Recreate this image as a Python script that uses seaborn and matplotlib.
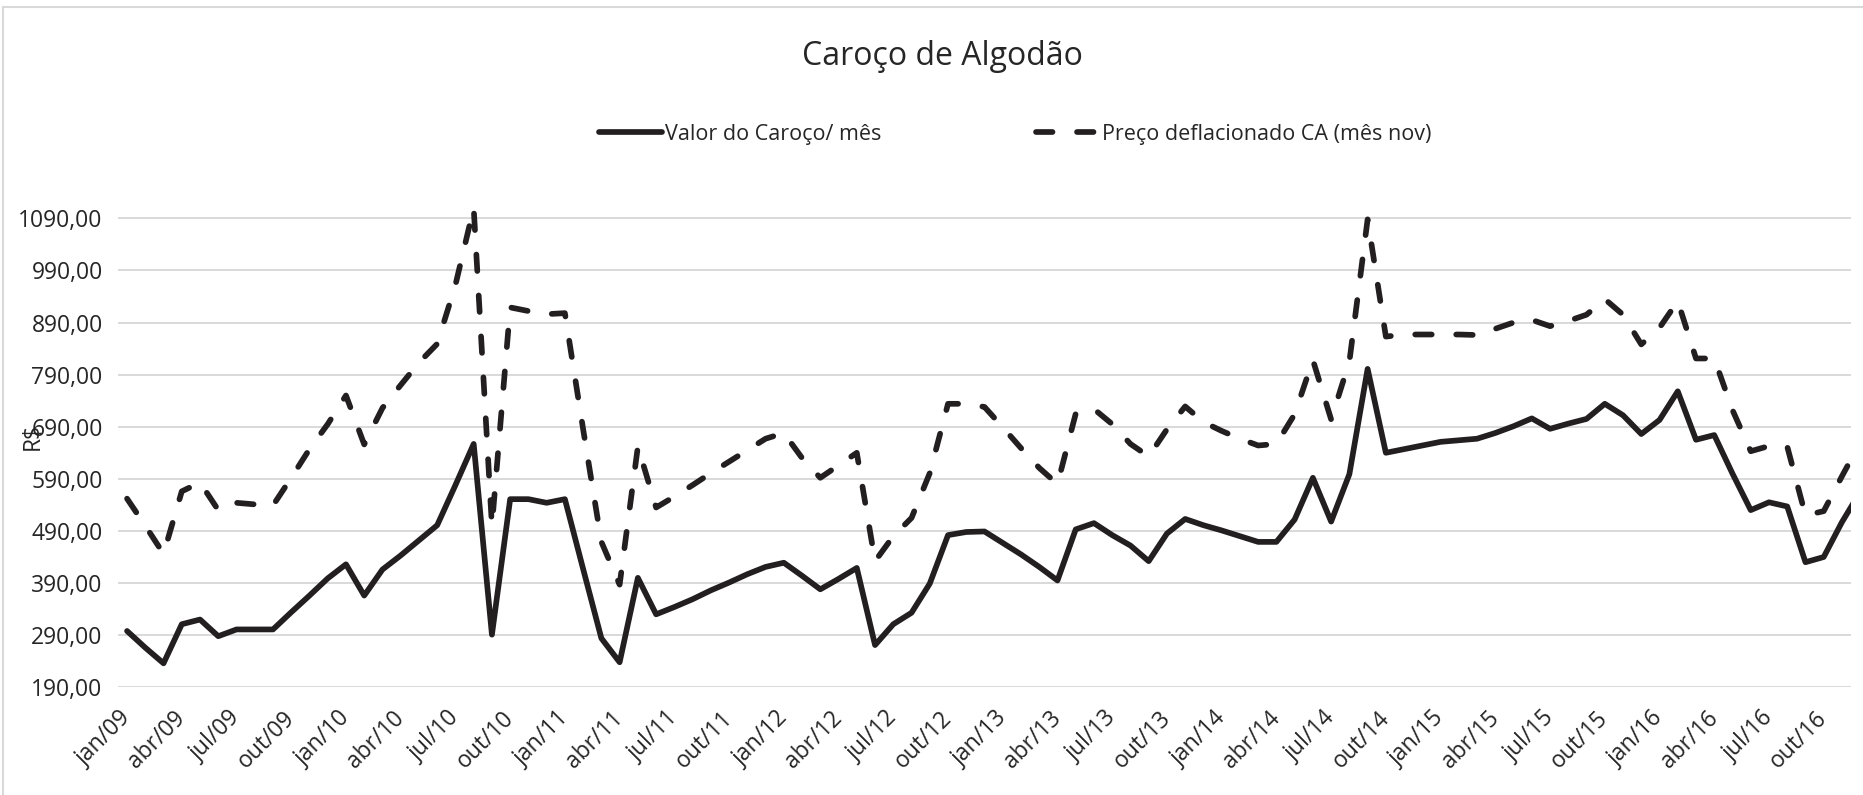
import pandas as pd
import seaborn as sns
import matplotlib.pyplot as plt
from matplotlib.patches import Rectangle

# meses / anos do eixo x (jan/09 ... dez/16)
meses = ['jan', 'fev', 'mar', 'abr', 'mai', 'jun', 'jul', 'ago', 'set', 'out', 'nov', 'dez']
anos = ['09', '10', '11', '12', '13', '14', '15', '16']
periodos = [f'{m}/{a}' for a in anos for m in meses]

# Valor do Caroço/ mês (R$)
valor_caroco = [
    298, 266, 236, 311, 320, 288, 301, 301, 301, 334, 366, 399,
    426, 366, 416, 443, 472, 501, 578, 657, 291, 551, 551, 544,
    551, 417, 284, 238, 400, 330, 344, 359, 376, 391, 407, 421,
    429, 404, 378, 398, 419, 271, 311, 333, 389, 482, 488, 489,
    467, 445, 421, 395, 493, 505, 482, 462, 432, 485, 513, 501,
    491, 480, 469, 469, 512, 592, 508, 599, 801, 640, 647, 654,
    661, 664, 667, 678, 691, 706, 686, 696, 705, 734, 712, 676,
    703, 758, 665, 674, 600, 530, 545, 537, 430, 440, 507, 565,
]

# Preço deflacionado CA (mês nov)
preco_deflacionado = [
    552, 500, 446, 566, 583, 530, 544, 541, 539, 592, 647, 695,
    750, 656, 726, 770, 813, 849, 962, 1110, 500, 919, 912, 906,
    908, 685, 469, 387, 652, 535, 556, 578, 601, 623, 645, 667,
    678, 630, 592, 616, 640, 432, 480, 515, 601, 734, 734, 728,
    689, 649, 611, 580, 715, 724, 695, 657, 633, 685, 729, 699,
    682, 667, 654, 657, 714, 818, 704, 815, 1088, 863, 867, 867,
    867, 867, 866, 878, 890, 895, 883, 893, 905, 935, 905, 848,
    880, 931, 821, 821, 722, 643, 653, 652, 520, 528, 595, 660,
]

yticks = list(range(190, 1091, 100))
ytick_labels = [f'{v:.2f}'.replace('.', ',') for v in yticks]

df = pd.DataFrame({
    'pos': range(len(periodos)),
    'periodo': periodos,
    'valor': valor_caroco,
    'preco': preco_deflacionado,
})

sns.set_theme(style='white')
plt.rcParams['font.family'] = ['Open Sans', 'DejaVu Sans']
cor = '#231f20'
texto = '#262626'

fig = plt.figure(figsize=(18.63, 7.95), dpi=100)
ax = fig.add_axes([0.0633, 0.1355, 0.9303, 0.6063])

sns.lineplot(data=df, x='pos', y='valor', ax=ax, color=cor, lw=4.1,
             estimator=None, sort=False)
sns.lineplot(data=df, x='pos', y='preco', ax=ax, color=cor, lw=4.1,
             estimator=None, sort=False)
l_valor, l_preco = ax.lines[0], ax.lines[1]
for ln in (l_valor, l_preco):
    ln.set_solid_joinstyle('round')
    ln.set_dash_joinstyle('round')
l_preco.set_dashes([2.9, 4.3])
l_preco.set_dash_capstyle('round')

ax.set_xlim(-0.5, 94.5)
ax.set_ylim(190, 1115)
ax.set_yticks(yticks)
ax.set_yticklabels(ytick_labels, fontsize=16.5, color=texto)
ax.set_xticks(df['pos'][::3])
ax.set_xticklabels(df['periodo'][::3], rotation=45, ha='right', va='center',
                   rotation_mode='anchor', fontsize=16.5, color=texto)
ax.tick_params(axis='x', length=0, pad=20)
ax.tick_params(axis='y', length=0, pad=11)
ax.set_xlabel('')
ax.set_ylabel('')
ax.yaxis.grid(True, color='#d9d9d9', lw=1.4)
ax.xaxis.grid(False)
sns.despine(ax=ax, left=True, bottom=True)

ax.legend(handles=[l_valor, l_preco],
          labels=['Valor do Caroço/ mês', 'Preço deflacionado CA (mês nov)'],
          loc='center', bbox_to_anchor=(0.545, 0.831), bbox_transform=fig.transFigure,
          ncol=2, frameon=False, fontsize=15.5, handlelength=2.9,
          handletextpad=0.15, columnspacing=7.2, labelcolor=texto)

fig.text(0.506, 0.929, 'Caroço de Algodão', ha='center', va='center',
         fontsize=23, color=texto)
fig.text(32 / 1863, 1 - 436 / 795, 'R$', rotation=90, ha='center', va='center',
         fontsize=16.5, color=texto)

# borda do gráfico (só topo e lado esquerdo aparecem)
fig.add_artist(Rectangle((3 / 1863, -0.02), 1.05, 1.02 - 7 / 795,
                         transform=fig.transFigure, fill=False,
                         ec='#d9d9d9', lw=1.5))

fig.savefig('out.png', dpi=100)
